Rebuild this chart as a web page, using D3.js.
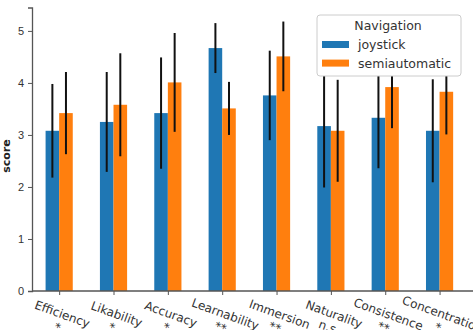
<!DOCTYPE html>
<html>
<head>
<meta charset="utf-8">
<script src="https://cdn.jsdelivr.net/npm/d3@7"></script>
<style>
  body { margin: 0; background: #fff; }
  svg { display: block; font-family: "DejaVu Sans", sans-serif; }
</style>
</head>
<body>
<svg id="chart" width="473" height="330"></svg>
<script>
// data
const categories = ["Efficiency", "Likability", "Accuracy", "Learnability", "Immersion", "Naturality", "Consistence", "Concentration"];
const significance = ["*", "*", "*", "**", "**", "n.s.", "**", "*"];
const seriesNames = ["joystick", "semiautomatic"];
const joystickMean = [3.08, 3.25, 3.42, 4.67, 3.76, 3.17, 3.33, 3.08];
const joystickSd = [0.90, 0.96, 1.07, 0.48, 0.86, 1.18, 0.97, 0.99];
const semiMean = [3.42, 3.58, 4.01, 3.51, 4.51, 3.08, 3.92, 3.83];
const semiSd = [0.79, 0.99, 0.95, 0.51, 0.67, 0.98, 0.79, 0.82];
const yTicks = [0, 1, 2, 3, 4, 5];

const colors = ["#1f77b4", "#ff7f0e"];
const series = [
  {name: seriesNames[0], mean: joystickMean, sd: joystickSd},
  {name: seriesNames[1], mean: semiMean, sd: semiSd}
];
const barW = 0.25;

const svg = d3.select("#chart");

let x = d3.scaleLinear().domain([-0.5, 7.56]).range([32, 470]);
let y = d3.scaleLinear().domain([0, 5.45]).range([291, 7.5]);
const unit = x(1) - x(0);

/* bars */
series.forEach(function (s, k) {
    svg.append("g").selectAll("rect")
        .data(s.mean)
        .enter()
        .append("rect")
        .attr("x", (d, i) => x(i - barW + k * barW))
        .attr("width", barW * unit)
        .attr("y", d => y(d))
        .attr("height", d => y(0) - y(d))
        .attr("fill", colors[k]);
});

/* error bars */
series.forEach(function (s, k) {
    svg.append("g").selectAll("line")
        .data(s.mean)
        .enter()
        .append("line")
        .attr("x1", (d, i) => x(i - barW / 2 + k * barW))
        .attr("x2", (d, i) => x(i - barW / 2 + k * barW))
        .attr("y1", (d, i) => y(d - s.sd[i]))
        .attr("y2", (d, i) => y(d + s.sd[i]))
        .attr("stroke", "#111")
        .attr("stroke-width", 2);
});

/* y axis */
let yAxis = d3.axisLeft(y).tickValues(yTicks).tickFormat(d3.format("d")).tickSize(4).tickPadding(4);
let gy = svg.append("g")
    .attr("transform", "translate(" + x(-0.5) + ",0)")
    .call(yAxis);
gy.select(".domain").attr("stroke", "#555").attr("stroke-width", 1.3);
gy.selectAll(".tick line").attr("stroke", "#555");
gy.selectAll(".tick text").attr("font-size", 11).attr("fill", "#333");

/* x axis */
let xAxis = d3.axisBottom(x).tickValues(d3.range(categories.length)).tickSize(4).tickFormat("");
let gx = svg.append("g")
    .attr("transform", "translate(0," + y(0) + ")")
    .call(xAxis);
gx.select(".domain").attr("stroke", "#555").attr("stroke-width", 1.3).attr("d", "M" + x(-0.5) + ",0H473");
gx.selectAll(".tick line").attr("stroke", "#555");

/* rotated category labels with significance marks (second line is cut by the frame, as in the original) */
let labels = svg.append("g").selectAll("g.xlabel")
    .data(categories)
    .enter()
    .append("g")
    .attr("class", "xlabel")
    .attr("transform", (d, i) => "translate(" + (x(i) + 1) + "," + 320 + ") rotate(20)");

labels.append("text")
    .attr("text-anchor", "middle")
    .attr("font-size", 12)
    .attr("fill", "#333")
    .attr("y", -2)
    .text(d => d);

labels.append("text")
    .attr("text-anchor", "middle")
    .attr("font-size", 12)
    .attr("fill", "#333")
    .attr("y", 12)
    .text((d, i) => significance[i]);

/* y label */
svg.append("text")
    .attr("transform", "translate(10,156) rotate(-90)")
    .attr("text-anchor", "middle")
    .attr("font-size", 11)
    .attr("font-weight", "bold")
    .attr("fill", "#222")
    .text("score");

/* legend */
let legend = svg.append("g").attr("transform", "translate(317,15)");
legend.append("rect")
    .attr("width", 144).attr("height", 61)
    .attr("rx", 3)
    .attr("fill", "white")
    .attr("stroke", "#ccc");
legend.append("text")
    .attr("x", 71).attr("y", 15)
    .attr("text-anchor", "middle")
    .attr("font-size", 12.5)
    .attr("fill", "#333")
    .text("Navigation");
seriesNames.forEach(function (n, k) {
    legend.append("rect")
        .attr("x", 5).attr("y", 26 + k * 18.6)
        .attr("width", 27).attr("height", 7)
        .attr("fill", colors[k]);
    legend.append("text")
        .attr("x", 41).attr("y", 34 + k * 18.6)
        .attr("font-size", 12.5)
        .attr("fill", "#333")
        .text(n);
});
</script>
</body>
</html>
